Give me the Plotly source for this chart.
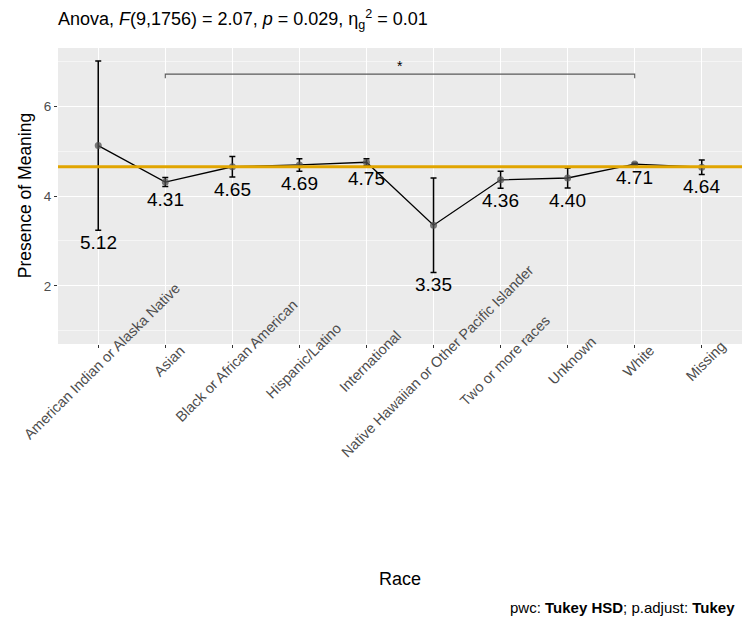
import plotly.graph_objects as go

# Group summaries: mean Presence of Meaning by race, with error half-widths
races = [
    "American Indian or Alaska Native", "Asian", "Black or African American",
    "Hispanic/Latino", "International", "Native Hawaiian or Other Pacific Islander",
    "Two or more races", "Unknown", "White", "Missing",
]
means = [5.12, 4.31, 4.65, 4.69, 4.75, 3.35, 4.36, 4.40, 4.71, 4.64]
errors = [1.88, 0.10, 0.23, 0.14, 0.08, 1.05, 0.19, 0.22, 0.02, 0.16]
grand_mean = 4.65

# Significant pairwise comparison (Tukey HSD)
bracket_groups = ["Asian", "White"]
bracket_y = 6.71
bracket_tip = 0.09
bracket_label = "*"

y_ticks = [2, 4, 6]

FONT = "Liberation Sans, Arial, Helvetica, sans-serif"
GREY30 = "#4D4D4D"

xpos = list(range(1, len(races) + 1))
lows = [m - e for m, e in zip(means, errors)]

fig = go.Figure()

# mean line + error bars
fig.add_trace(go.Scatter(
    x=xpos, y=means, mode="lines",
    line=dict(color="black", width=1.3),
    error_y=dict(type="data", array=errors, visible=True,
                 color="black", thickness=1.5, width=3),
    hoverinfo="skip", showlegend=False,
))
# group mean points
fig.add_trace(go.Scatter(
    x=xpos, y=means, mode="markers",
    marker=dict(color="rgba(80,80,80,0.75)", size=7),
    showlegend=False,
))

# comparison bracket
b0 = races.index(bracket_groups[0]) + 1
b1 = races.index(bracket_groups[1]) + 1
fig.add_trace(go.Scatter(
    x=[b0, b0, b1, b1],
    y=[bracket_y - bracket_tip, bracket_y, bracket_y, bracket_y - bracket_tip],
    mode="lines", line=dict(color="#5A5A5A", width=1.1),
    hoverinfo="skip", showlegend=False,
))

annotations = []
annotations.append(dict(
    x=(b0 + b1) / 2, y=bracket_y, xref="x", yref="y", text=bracket_label,
    showarrow=False, yanchor="bottom", yshift=-2,
    font=dict(family=FONT, size=14, color="black"),
))

# value labels beneath each error bar
for x, lo, m in zip(xpos, lows, means):
    annotations.append(dict(
        x=x, y=lo, xref="x", yref="y", text=f"{m:.2f}", showarrow=False,
        yanchor="top", yshift=0,
        font=dict(family=FONT, size=19, color="black"),
    ))

# rotated category labels, centred on each tick
for x, name in zip(xpos, races):
    annotations.append(dict(
        x=x, y=-0.057, xref="x", yref="paper", text=name, showarrow=False,
        textangle=-45, xanchor="center", yanchor="middle", xshift=4,
        font=dict(family=FONT, size=14.5, color=GREY30),
    ))

# axis titles and caption
annotations.append(dict(
    x=0.5, y=-0.794, xref="paper", yref="paper", text="Race", showarrow=False,
    xanchor="center", yanchor="middle",
    font=dict(family=FONT, size=18, color="black"),
))
annotations.append(dict(
    x=-0.048, y=0.5, xref="paper", yref="paper", text="Presence of Meaning",
    showarrow=False, textangle=-90, xanchor="center", yanchor="middle",
    font=dict(family=FONT, size=17.5, color="black"),
))
annotations.append(dict(
    x=0.993, y=-0.889, xref="paper", yref="paper",
    text="pwc: <b>Tukey HSD</b>; p.adjust: <b>Tukey</b>", showarrow=False,
    xanchor="right", yanchor="middle",
    font=dict(family=FONT, size=15, color="black"),
))

fig.update_layout(
    width=745, height=621,
    margin=dict(l=58, r=3, t=48, b=277, autoexpand=False),
    paper_bgcolor="white", plot_bgcolor="#EBEBEB",
    font=dict(family=FONT, color="black"),
    title=dict(
        text="Anova, <i>F</i>(9,1756) = 2.07, <i>p</i> = 0.029, η<sub>g</sub><sup>2</sup> = 0.01",
        x=0, xanchor="left", xref="paper",
        y=1 - 19 / 621, yanchor="middle", yref="container",
        font=dict(family=FONT, size=18, color="black"),
    ),
    annotations=annotations,
    shapes=[dict(
        type="line", xref="x domain", yref="y", x0=0, x1=1,
        y0=grand_mean, y1=grand_mean, layer="above",
        line=dict(color="#E1A500", width=3),
    )],
    showlegend=False,
)

fig.update_xaxes(
    range=[0.4, len(races) + 0.6], tickvals=xpos, showticklabels=False,
    ticks="outside", ticklen=3, tickcolor="#333333", tickwidth=1.1,
    showgrid=True, gridcolor="white", gridwidth=1.1, zeroline=False,
    showline=False, fixedrange=True,
)
fig.update_yaxes(
    range=[0.71, 7.29], tickvals=y_ticks,
    ticks="outside", ticklen=3, tickcolor="#333333", tickwidth=1.1,
    tickfont=dict(family=FONT, size=13.5, color=GREY30),
    showgrid=True, gridcolor="white", gridwidth=1.1, zeroline=False,
    minor=dict(tickvals=[1, 3, 5, 7], showgrid=True, gridcolor="#F5F5F5",
               gridwidth=0.6, ticks=""),
    showline=False, fixedrange=True,
)

fig.write_html("out.html")
